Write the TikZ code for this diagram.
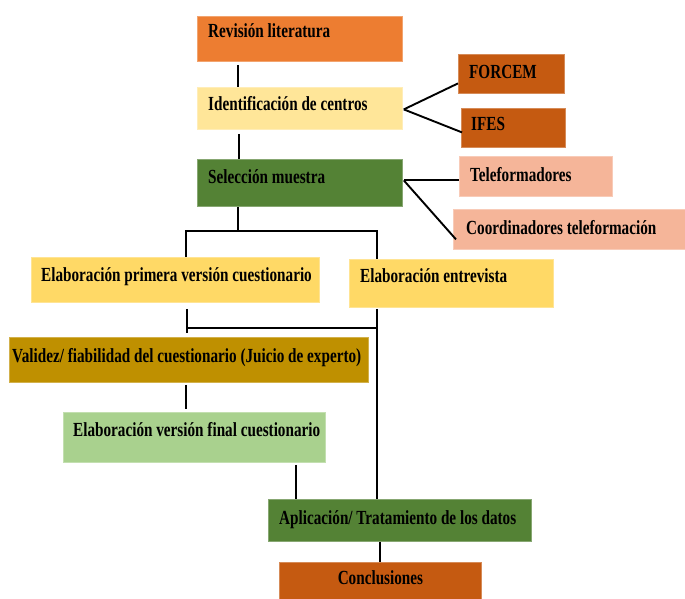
\documentclass[tikz,border=0pt]{standalone}
\usepackage{fontspec}
\setmainfont{Liberation Serif}[FakeStretch=0.76]
\usetikzlibrary{calc}
\definecolor{corange}{HTML}{ED7D31}
\definecolor{cpaleyel}{HTML}{FFE699}
\definecolor{cdkorange}{HTML}{C55A11}
\definecolor{cgreen}{HTML}{548235}
\definecolor{csalmon}{HTML}{F5B599}
\definecolor{cyellow}{HTML}{FFD966}
\definecolor{cgold}{HTML}{BF9000}
\definecolor{clgreen}{HTML}{A9D18E}
\tikzset{
  bx/.style={draw=#1!70!white, line width=0.8pt, fill=#1, inner sep=0pt, anchor=north west},
  lbl/.style={font=\fontsize{20}{24}\selectfont\bfseries, inner sep=0pt, text=black, anchor=base west},
  cn/.style={draw=black, line width=1.9pt}
}
\begin{document}
\begin{tikzpicture}[x=1pt,y=-1pt]
\useasboundingbox (0,0) rectangle (685,599);
% boxes
\node[bx=corange, minimum width=205pt, minimum height=45pt] (rev) at (197,16) {};
\node[bx=cpaleyel, minimum width=205pt, minimum height=42pt] (idc) at (197,87) {};
\node[bx=cdkorange, minimum width=106pt, minimum height=39pt] (for) at (458,54) {};
\node[bx=cdkorange, minimum width=104pt, minimum height=39pt] (ifes) at (461,108) {};
\node[bx=cgreen, minimum width=205pt, minimum height=47pt] (sel) at (197,159) {};
\node[bx=csalmon, minimum width=153pt, minimum height=40pt] (tel) at (459,156) {};
\node[bx=csalmon, minimum width=232pt, minimum height=40pt] (coo) at (453,209) {};
\node[bx=cyellow, minimum width=288pt, minimum height=45pt] (ep) at (31,257) {};
\node[bx=cyellow, minimum width=204pt, minimum height=48pt] (ent) at (349,259) {};
\node[bx=cgold, minimum width=359pt, minimum height=45pt] (val) at (9,337) {};
\node[bx=clgreen, minimum width=262pt, minimum height=50pt] (fin) at (63,412) {};
\node[bx=cgreen, minimum width=263pt, minimum height=42pt] (apl) at (268,499) {};
\node[bx=cdkorange, minimum width=202pt, minimum height=38pt] (con) at (279,562) {};
% labels
\node[lbl] (revt) at (208,38) {Revisión literatura};
\node[lbl] (idct) at (208,111) {Identificación de centros};
\node[lbl] (fort) at (469,79) {FORCEM};
\node[lbl] (ifest) at (471,131) {IFES};
\node[lbl] (selt) at (208,183) {Selección muestra};
\node[lbl] (telt) at (470,181) {Teleformadores};
\node[lbl] (coot) at (466,234) {Coordinadores teleformación};
\node[lbl] (ept) at (41,281) {Elaboración primera versión cuestionario};
\node[lbl] (entt) at (360,282) {Elaboración entrevista};
\node[lbl] (valt) at (12,362) {Validez/ fiabilidad del cuestionario (Juicio de experto)};
\node[lbl] (fint) at (73,436) {Elaboración versión final cuestionario};
\node[lbl] (aplt) at (279,524) {Aplicación/ Tratamiento de los datos};
\node[lbl, anchor=base] (cont) at (con.north |- 0,584) {Conclusiones};
% junctions
\coordinate (j1) at (186,231);
\coordinate (j2) at (377,231);
\coordinate (j3) at (187,328);
\coordinate (j4) at (377,328);
% connectors
\draw[cn] ([xshift=41pt,yshift=-3pt]rev.south west) -- ([xshift=41pt]idc.north west);
\draw[cn] ([xshift=42pt,yshift=-4pt]idc.south west) -- ([xshift=42pt]sel.north west);
\draw[cn] ([xshift=1pt,yshift=-1pt]idc.east) -- ([yshift=-9.5pt]for.west);
\draw[cn] ([xshift=1pt,yshift=-1pt]idc.east) -- ([xshift=1pt,yshift=-4.5pt]ifes.west);
\draw[cn] ([xshift=1pt,yshift=2.5pt]sel.east) -- ([yshift=2.5pt]sel.east -| tel.west);
\draw[cn] ([xshift=1pt,yshift=2.5pt]sel.east) -- ([xshift=3pt,yshift=-10pt]coo.west);
\draw[cn] ([xshift=41pt]sel.south west) -- ([xshift=41pt]sel.south west |- j1);
\draw[cn] ([xshift=155pt]ep.north west) -- (j1) -- (j2) -- ([xshift=28pt]ent.north west);
\draw[cn] ([xshift=156pt,yshift=-6pt]ep.south west) -- ([xshift=178pt,yshift=4pt]val.north west);
\draw[cn] (j3) -- (j4);
\draw[cn] ([xshift=28pt,yshift=-1pt]ent.south west) -- ([xshift=109pt]apl.north west);
\draw[cn] ([xshift=177pt,yshift=-2pt]val.south west) -- ([xshift=123pt,yshift=3pt]fin.north west);
\draw[cn] ([xshift=233pt,yshift=-2pt]fin.south west) -- ([xshift=233pt]fin.south west |- apl.north);
\draw[cn] ([xshift=112pt]apl.south west) -- ([xshift=101pt]con.north west);
\end{tikzpicture}
\end{document}
